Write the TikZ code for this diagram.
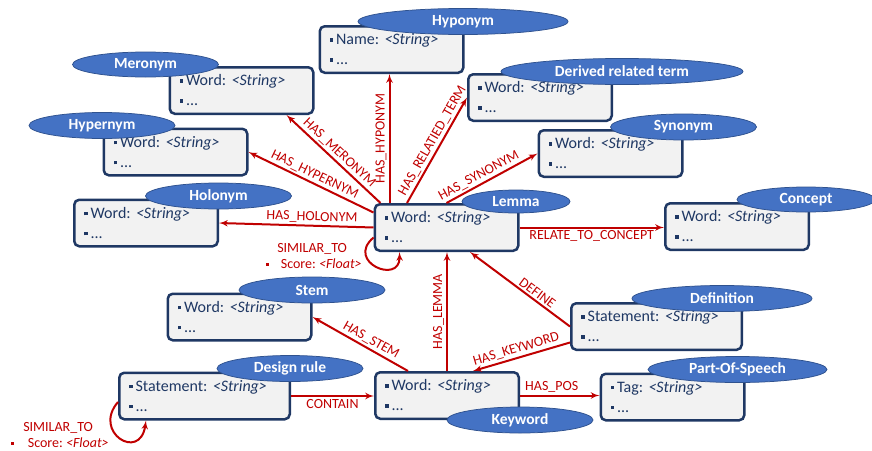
\documentclass[tikz,border=0pt]{standalone}
\usepackage{fontspec}
\setmainfont{Carlito}
\usepackage{tikz}
\usetikzlibrary{shapes,arrows}
\definecolor{navy}{RGB}{31,56,100}
\definecolor{tagblue}{RGB}{68,114,196}
\definecolor{tagline}{RGB}{47,82,143}
\definecolor{relred}{RGB}{192,0,0}
\definecolor{boxgray}{RGB}{242,242,242}
\newcommand{\bul}{\raisebox{0.2em}{\rule{0.22em}{0.22em}}\hspace{0.18em}}
\newcommand{\field}[2]{\bul #1:\ \textit{<#2>}\\\bul ...}
\tikzstyle{block} = [draw=navy, fill=boxgray, rectangle, rounded corners=5pt,
    line width=2.5pt, text=navy, font=\fontsize{16}{20}\selectfont,
    align=left, text width=123.5pt, inner xsep=10pt, inner ysep=0pt, minimum height=46.5pt]
\tikzstyle{wide} = [text width=150.5pt]
\tikzstyle{tag} = [draw=tagline, fill=tagblue, ellipse, line width=0.75pt, text=white,
    font=\bfseries\fontsize{15.5}{18}\selectfont, inner sep=0pt, minimum height=26pt, minimum width=146pt]
\tikzstyle{rel} = [text=relred, font=\fontsize{14}{16}\selectfont, inner sep=2pt]
\tikzstyle{link} = [->, draw=relred, line width=2pt]

\begin{document}
\begin{tikzpicture}[x=1pt, y=-1pt, >=latex']
    \useasboundingbox (0,0) rectangle (872,450);
    % We start by placing the blocks
    \node [block] (hypo) at (391.5,49.5) {\field{Name}{String}};
    \node [block] (mero) at (241.5,90.5) {\field{Word}{String}};
    \node [block] (hyper) at (175.5,152) {\field{Word}{String}};
    \node [block] (holo) at (146,223) {\field{Word}{String}};
    \node [block] (lemma) at (446.5,227.5) {\field{Word}{String}};
    \node [block] (deriv) at (540,97.5) {\field{Word}{String}};
    \node [block] (syn) at (610.5,153.5) {\field{Word}{String}};
    \node [block] (concept) at (737,226.5) {\field{Word}{String}};
    \node [block] (stem) at (239.5,317) {\field{Word}{String}};
    \node [block, wide] (design) at (204.5,396) {\field{Statement}{String}};
    \node [block] (keyword) at (447,395.5) {\field{Word}{String}};
    \node [block, wide] (defin) at (656.5,326.5) {\field{Statement}{String}};
    \node [block] (pos) at (672.5,397) {\field{Tag}{String}};
    % We draw the relations around the lemma
    \draw [link] ([xshift=-57pt]lemma.north) -- node[rel, above, sloped] (u1) {HAS\_HYPONYM} ([xshift=-57pt]lemma.north |- hypo.south);
    \draw [link] ([xshift=7pt]lemma.north west) -- node[rel, above, sloped] (u2) {HAS\_MERONYM} ([xshift=-28pt]mero.south east);
    \draw [link] ([yshift=15pt]lemma.west) -- node[rel, above, sloped] (u3) {HAS\_HYPERNYM} (hyper.east);
    \draw [link] (lemma.west) -- node[rel, above, sloped, pos=0.4] (u4) {HAS\_HOLONYM} (holo.east);
    \draw [link] ([xshift=-39.5pt]lemma.north) -- node[rel, above, sloped, pos=0.55] (u5) {HAS\_RELATIED\_TERM} (deriv.west);
    \draw [link] (lemma.north) -- node[rel, above, sloped, pos=0.4] (u6) {HAS\_SYNONYM} (syn.west);
    \draw [link] (lemma.east) -- node[rel, below] (u7) {RELATE\_TO\_CONCEPT} (lemma.east -| concept.west);
    \draw [link] ([yshift=-10pt]lemma.west) .. controls (345,262) and (400,285) .. ([xshift=26pt]lemma.south west);
    \node [rel, align=left, inner sep=0pt] (s1) at (314,256) {\hspace*{11pt}SIMILAR\_TO\\\bul\hspace{9pt}Score:\ \textit{<Float>}};
    % We draw the relations below the lemma
    \draw [link] (keyword.north) -- node[rel, above, sloped] (v1) {HAS\_LEMMA} (keyword.north |- lemma.south);
    \draw [link] (defin.west) -- node[rel, above, sloped, pos=0.37] (v2) {DEFINE} ([xshift=23.5pt]lemma.south);
    \draw [link] ([yshift=-16pt]defin.west) -- node[rel, above, sloped, pos=0.53] (v3) {HAS\_KEYWORD} ([xshift=26pt]keyword.north);
    \draw [link] ([xshift=-39pt]keyword.north) -- node[rel, above, sloped, pos=0.43] (v4) {HAS\_STEM} (stem.east);
    \draw [link] (keyword.east) -- node[rel, above, pos=0.4] (v5) {HAS\_POS} (keyword.east -| pos.west);
    \draw [link] (design.east) -- node[rel, below] (v6) {CONTAIN} (design.east -| keyword.west);
    \draw [link] ([yshift=-6pt]design.west) .. controls (92,432) and (140,462) .. ([xshift=28pt]design.south west);
    \node [rel, align=left, inner sep=0pt] (s2) at (60,435) {\hspace*{12pt}SIMILAR\_TO\\\bul\hspace{11pt}Score:\ \textit{<Float>}};
    % We put the class names on top
    \node [tag, minimum width=210pt] (hypotag) at (463,21.5) {Hyponym};
    \node [tag, minimum height=25pt] (merotag) at (145.5,64.5) {Meronym};
    \node [tag] (hypertag) at (102,125.5) {Hypernym};
    \node [tag] (holotag) at (218.5,196) {Holonym};
    \node [tag, minimum width=108pt, minimum height=23pt] (lemmatag) at (516,201.5) {Lemma};
    \node [tag, minimum width=242pt] (derivtag) at (622,71.5) {Derived related term};
    \node [tag] (syntag) at (683.5,127) {Synonym};
    \node [tag, minimum width=138pt, minimum height=25pt] (concepttag) at (806,199.5) {Concept};
    \node [tag] (stemtag) at (312,290) {Stem};
    \node [tag] (designtag) at (290,368.5) {Design rule};
    \node [tag] (keywordtag) at (520,420) {Keyword};
    \node [tag, minimum width=180pt] (defintag) at (722,298.5) {Definition};
    \node [tag, minimum width=179pt] (postag) at (737.5,369.5) {Part-Of-Speech};
\end{tikzpicture}
\end{document}
